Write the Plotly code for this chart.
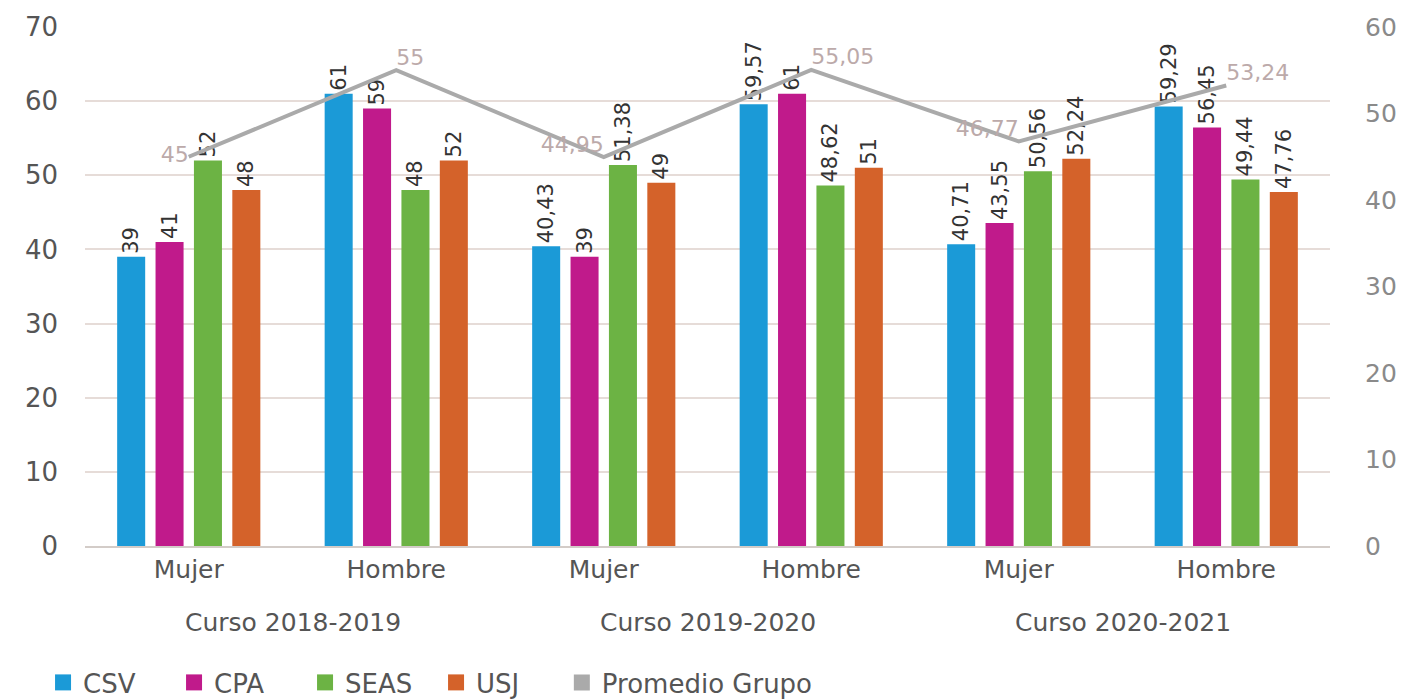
import plotly.graph_objects as go

# categories
cursos = ["Curso 2018-2019", "Curso 2019-2020", "Curso 2020-2021"]
sexo = ["Mujer", "Hombre", "Mujer", "Hombre", "Mujer", "Hombre"]

# series values
csv = [39, 61, 40.43, 59.57, 40.71, 59.29]
cpa = [41, 59, 39, 61, 43.55, 56.45]
seas = [52, 48, 51.38, 48.62, 50.56, 49.44]
usj = [48, 52, 49, 51, 52.24, 47.76]
promedio = [45, 55, 44.95, 55.05, 46.77, 53.24]

series = [
    ("CSV", csv, "#1b9ad7"),
    ("CPA", cpa, "#c01a8b"),
    ("SEAS", seas, "#6cb344"),
    ("USJ", usj, "#d4622a"),
]

FONT = "DejaVu Sans, sans-serif"
GRAY = "#aaaaaa"


def fmt(v):
    return f"{v:g}".replace(".", ",")


pos = list(range(len(sexo)))
fig = go.Figure()

for name, vals, color in series:
    fig.add_trace(go.Bar(
        x=pos, y=vals, name=name, showlegend=False,
        marker=dict(color=color, line=dict(width=0)),
        text=[fmt(v) for v in vals],
        textposition="outside", textangle=-90, constraintext="none",
        textfont=dict(size=21, color="#333333", family=FONT),
        cliponaxis=False,
    ))

fig.add_trace(go.Scatter(
    x=pos, y=promedio, yaxis="y2", mode="lines+text",
    line=dict(color=GRAY, width=4),
    text=[fmt(v) for v in promedio],
    textposition=["middle left", "top right", "top left",
                  "top right", "top left", "top right"],
    textfont=dict(size=22, color="#bcaaaa", family=FONT),
    showlegend=False, cliponaxis=False,
))

# legend entries drawn as big squares like the reference
for name, _, color in series:
    fig.add_trace(go.Scatter(
        x=[0], y=[None], mode="markers", name=name, legend="legend",
        marker=dict(symbol="square", size=20, color=color),
    ))
fig.add_trace(go.Scatter(
    x=[0], y=[None], yaxis="y2", mode="markers", name="Promedio Grupo",
    legend="legend2", marker=dict(symbol="square", size=20, color=GRAY),
))

# course labels centred under each Mujer/Hombre pair
for i, curso in enumerate(cursos):
    fig.add_annotation(
        text=curso, x=2 * i + 0.5, xref="x", y=-0.148, yref="paper",
        yanchor="middle", showarrow=False,
        font=dict(size=25, color="#555555", family=FONT),
    )

legend_style = dict(orientation="h", y=-0.263, xanchor="left", yanchor="middle",
                    font=dict(size=26, color="#555555"), itemwidth=30,
                    traceorder="normal", bgcolor="rgba(0,0,0,0)")

fig.update_layout(
    width=1398, height=691,
    separators=",.",
    barmode="group", bargap=0.26, bargroupgap=0.27,
    plot_bgcolor="white", paper_bgcolor="white",
    font=dict(family=FONT, size=25, color="#555555"),
    margin=dict(l=77, r=76, t=19, b=153, autoexpand=False),
    xaxis=dict(tickmode="array", tickvals=pos, ticktext=sexo, range=[-0.5, 5.5],
               tickfont=dict(size=25, color="#555555"), showgrid=False,
               showline=True, linecolor="#d3ccc8", linewidth=2, ticks="",
               zeroline=False, automargin=False),
    yaxis=dict(range=[0, 70], dtick=10, showgrid=True, gridcolor="#e6dcd8",
               gridwidth=2, zeroline=False, ticklabelstandoff=26, automargin=False,
               tickfont=dict(size=26, color="#555555")),
    yaxis2=dict(range=[0, 60], dtick=10, overlaying="y", side="right",
                showgrid=False, zeroline=False, ticklabelstandoff=34, automargin=False,
                tickfont=dict(size=25, color="#8a8a8a")),
    legend=dict(x=-0.0337, entrywidth=86, entrywidthmode="pixels", **legend_style),
    legend2=dict(x=0.383, **legend_style),
)

fig.write_html("out.html")
